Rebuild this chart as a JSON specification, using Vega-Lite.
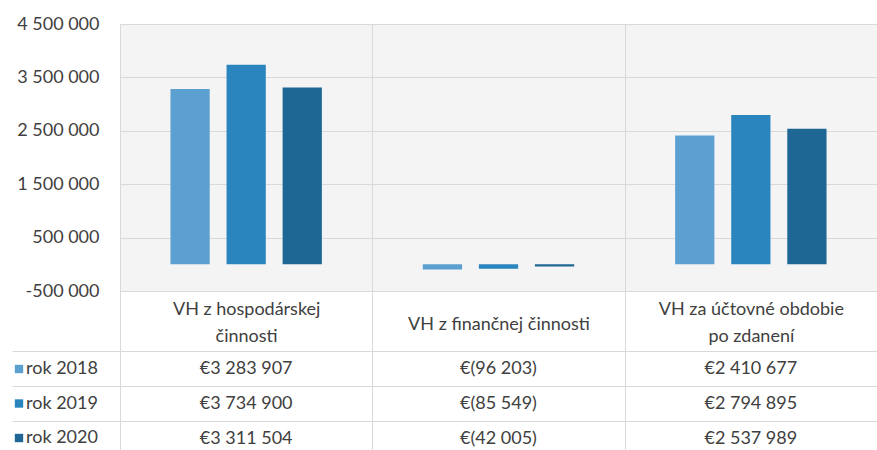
{
  "$schema": "https://vega.github.io/schema/vega-lite/v6.json",
  "background": "white",
  "padding": {"left": 10, "top": 15, "right": 0, "bottom": 0},
  "config": {
    "locale": {"number": {"decimal": ",", "thousands": " ", "grouping": [3], "currency": ["€", ""], "minus": "-"}},
    "font": "Lato",
    "view": {"stroke": null}
  },
  "datasets": {
    "vh": [
      {"category": "VH z hospodárskej činnosti", "year": "rok 2018", "value": 3283907, "label": "€3 283 907"},
      {"category": "VH z hospodárskej činnosti", "year": "rok 2019", "value": 3734900, "label": "€3 734 900"},
      {"category": "VH z hospodárskej činnosti", "year": "rok 2020", "value": 3311504, "label": "€3 311 504"},
      {"category": "VH z finančnej činnosti", "year": "rok 2018", "value": -96203, "label": "€(96 203)"},
      {"category": "VH z finančnej činnosti", "year": "rok 2019", "value": -85549, "label": "€(85 549)"},
      {"category": "VH z finančnej činnosti", "year": "rok 2020", "value": -42005, "label": "€(42 005)"},
      {"category": "VH za účtovné obdobie po zdanení", "year": "rok 2018", "value": 2410677, "label": "€2 410 677"},
      {"category": "VH za účtovné obdobie po zdanení", "year": "rok 2019", "value": 2794895, "label": "€2 794 895"},
      {"category": "VH za účtovné obdobie po zdanení", "year": "rok 2020", "value": 2537989, "label": "€2 537 989"}
    ]
  },
  "data": {"name": "vh"},
  "bounds": "flush",
  "spacing": 60,
  "vconcat": [
    {
      "width": 757,
      "height": 267,
      "view": {"fill": "#f4f4f4", "stroke": null},
      "mark": {"type": "bar"},
      "encoding": {
        "x": {
          "field": "category", "type": "nominal",
          "sort": ["VH z hospodárskej činnosti", "VH z finančnej činnosti", "VH za účtovné obdobie po zdanení"],
          "scale": {"paddingInner": 0, "paddingOuter": 0},
          "axis": {
            "title": null, "labelAngle": 0, "domain": false,
            "tickBand": "extent", "tickSize": 60, "tickColor": "#d9d9d9",
            "grid": true, "gridColor": "#d9d9d9",
            "labelExpr": "datum.value == 'VH z hospodárskej činnosti' ? ['VH z hospodárskej', 'činnosti'] : datum.value == 'VH za účtovné obdobie po zdanení' ? ['VH za účtovné obdobie', 'po zdanení'] : datum.label",
            "labelBaseline": "middle",
            "labelPadding": {"condition": {"test": "datum.value == 'VH z finančnej činnosti'", "value": -27}, "value": -42},
            "labelLineHeight": 27,
            "labelFontSize": 18, "labelColor": "#404040", "labelLimit": 300
          }
        },
        "xOffset": {"field": "year", "type": "nominal", "scale": {"paddingInner": 0.3, "paddingOuter": 0.9}},
        "y": {
          "field": "value", "type": "quantitative",
          "scale": {"domain": [-500000, 4500000], "nice": false},
          "axis": {
            "title": null, "values": [-500000, 500000, 1500000, 2500000, 3500000, 4500000],
            "format": ",.0f", "domain": false, "ticks": false, "grid": true, "gridColor": "#d9d9d9",
            "labelPadding": 21, "labelFontSize": 18, "labelColor": "#404040"
          }
        },
        "color": {
          "field": "year", "type": "nominal",
          "scale": {"range": ["#5ca0d1", "#2a85bf", "#1e6694"]},
          "legend": {
            "title": null, "orient": "none", "legendX": -110, "legendY": 336,
            "symbolType": "square", "symbolSize": 70, "symbolStrokeWidth": 0,
            "labelFontSize": 18, "labelColor": "#404040", "labelOffset": -2,
            "rowPadding": 16.5, "padding": 0
          }
        }
      }
    },
    {
      "width": 757,
      "height": 98,
      "mark": {"type": "text", "fontSize": 18, "color": "#404040"},
      "encoding": {
        "x": {
          "field": "category", "type": "nominal",
          "sort": ["VH z hospodárskej činnosti", "VH z finančnej činnosti", "VH za účtovné obdobie po zdanení"],
          "scale": {"paddingInner": 0, "paddingOuter": 0},
          "axis": {"title": null, "labels": false, "ticks": false, "domain": false, "grid": true, "tickBand": "extent", "gridColor": "#d9d9d9"}
        },
        "y": {
          "field": "year", "type": "nominal",
          "scale": {"paddingInner": 0, "paddingOuter": 0, "range": [0, 105]},
          "axis": {"title": null, "labels": false, "values": ["rok 2018", "rok 2019"], "ticks": true, "tickSize": 108, "tickColor": "#d9d9d9", "tickBand": "extent", "domain": false, "grid": true, "gridColor": "#d9d9d9"}
        },
        "text": {"field": "label"}
      }
    }
  ]
}
